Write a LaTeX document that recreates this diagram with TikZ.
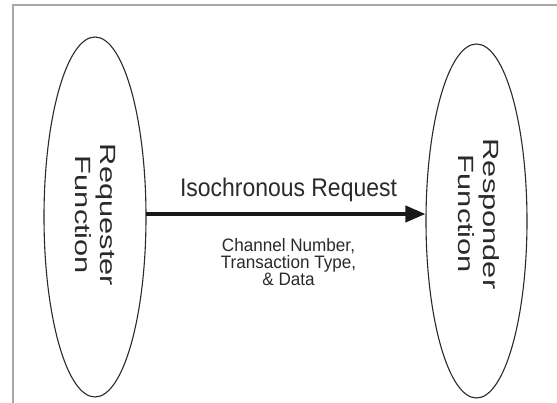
\documentclass[tikz,border=0pt]{standalone}
\usepackage{fontspec}
\setmainfont{Liberation Sans}
\usetikzlibrary{shapes.geometric,arrows.meta}
\definecolor{framegray}{HTML}{A8A8A8}
\definecolor{inkgray}{HTML}{2A2A2A}
\begin{document}
\begin{tikzpicture}[x=1pt,y=-1pt,
  ellnode/.style={draw=inkgray, line width=1.1pt, ellipse, inner sep=0pt},
  rtext/.style={font=\fontsize{22}{25}\selectfont, text=inkgray, align=center, rotate=-90, xscale=1.4, inner sep=0pt},
  titletext/.style={font=\fontsize{25.5}{28}\selectfont, text=inkgray, xscale=0.9, inner sep=0pt},
  subtext/.style={font=\fontsize{18}{16.7}\selectfont, text=inkgray, align=center, xscale=0.95, inner sep=0pt},
  bigarrow/.style={draw=black!90, line width=4pt, -{Triangle[length=20pt,width=16pt]}}
]
\useasboundingbox (0,0) rectangle (557,403);
\fill[white] (0,0) rectangle (557,403);
% frame
\coordinate (fbl) at (12.5,403);
\coordinate (ftl) at (12.5,5);
\coordinate (ftr) at (557,5);
\draw[framegray, line width=2pt] (fbl) -- (ftl) -- (ftr);
% ellipses
\node[ellnode, minimum width=102pt, minimum height=360pt] (L) at (95,217) {};
\node[ellnode, minimum width=101pt, minimum height=354pt] (R) at (476.5,221) {};
% rotated labels
\node[rtext] (Lt) at (95.5,215) {Requester\\Function};
\node[rtext] (Rt) at (479,214) {Responder\\Function};
% arrow
\coordinate (As) at (146,214);
\draw[bigarrow] (As) -- (As -| R.west);
% labels
\node[titletext, anchor=base] (T) at (288.5,197) {Isochronous Request};
\node[subtext] (S) at (288.5,262) {Channel Number,\\Transaction Type,\\\& Data};
\end{tikzpicture}
\end{document}
